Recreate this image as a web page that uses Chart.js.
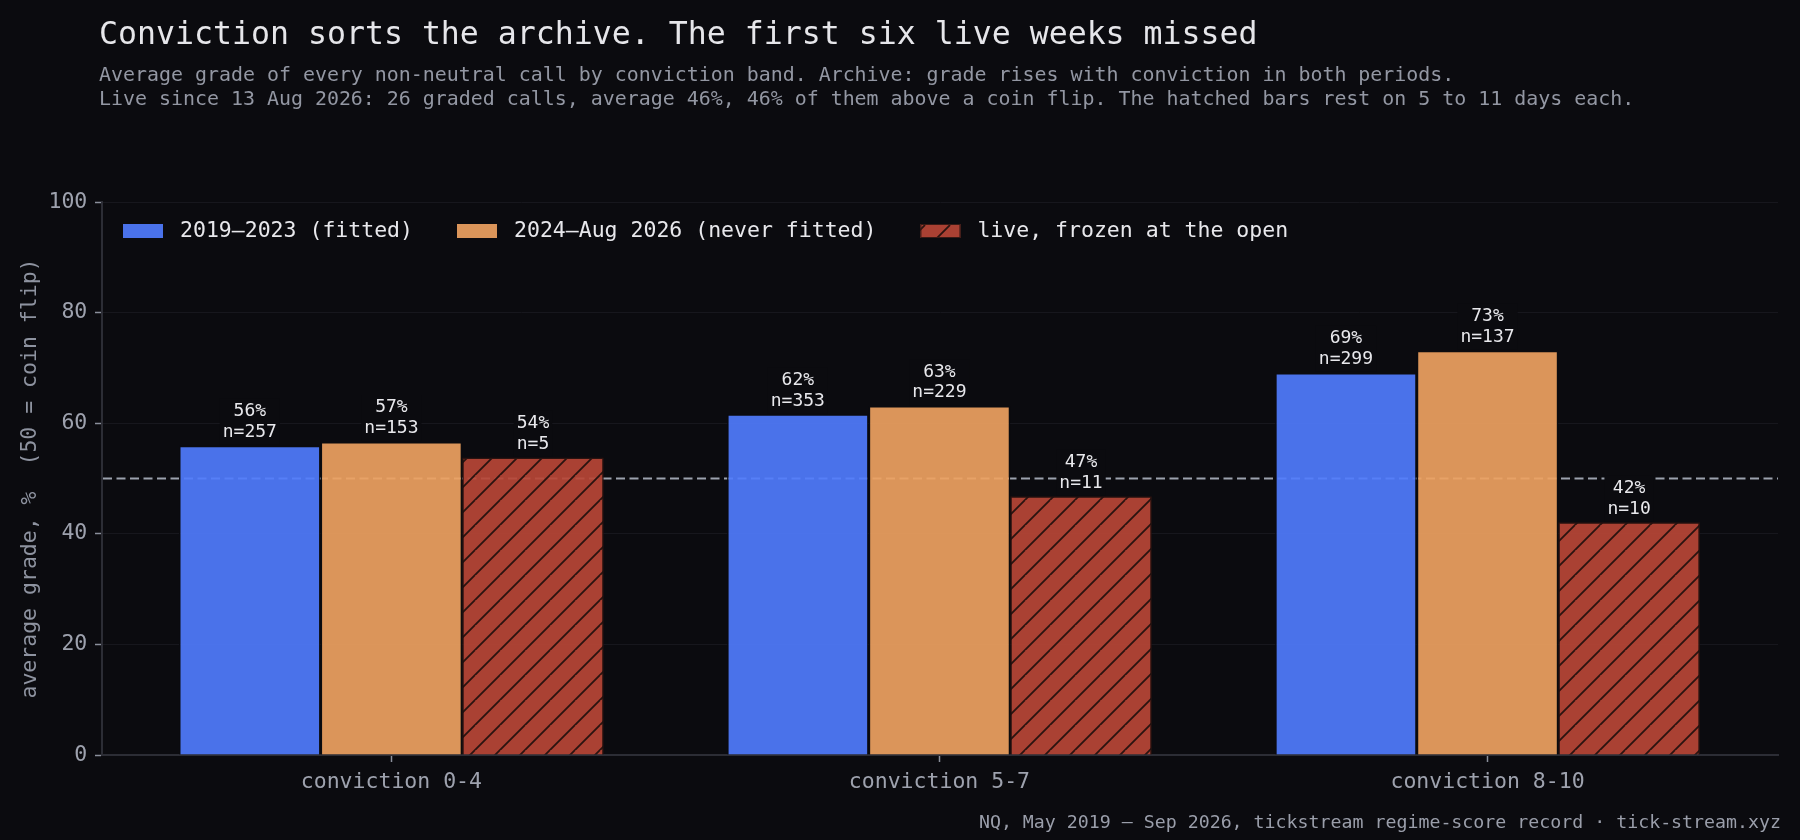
<!DOCTYPE html>
<html lang="en">
<head>
<meta charset="utf-8">
<title>Conviction sorts the archive</title>
<script src="https://cdn.jsdelivr.net/npm/chart.js@4.4.1/dist/chart.umd.min.js"></script>
<style>
  html, body { margin: 0; padding: 0; background: #0b0b0f; }
  #quadro { position: relative; width: 1800px; height: 840px; overflow: hidden; background: #0b0b0f; }
  #grafico { position: absolute; left: 0; top: 0; }
  .texto { position: absolute; font-family: 'DejaVu Sans Mono', monospace; white-space: pre; }
  #titulo { left: 99px; top: 13px; font-size: 31.55px; line-height: 40px; color: #e6e6ea; }
  #subtitulo { left: 99px; top: 63px; font-size: 19.93px; line-height: 24px; color: #9397a3; }
  #rodape { right: 19px; top: 811px; font-size: 18.25px; line-height: 22px; color: #9a9eaa; }
</style>
</head>
<body>
<div id="quadro">
  <canvas id="grafico" width="1800" height="840"></canvas>
  <div class="texto" id="titulo">Conviction sorts the archive. The first six live weeks missed</div>
  <div class="texto" id="subtitulo">Average grade of every non-neutral call by conviction band. Archive: grade rises with conviction in both periods.
Live since 13 Aug 2026: 26 graded calls, average 46%, 46% of them above a coin flip. The hatched bars rest on 5 to 11 days each.</div>
  <div class="texto" id="rodape">NQ, May 2019 – Sep 2026, tickstream regime-score record · tick-stream.xyz</div>
</div>
<script>
// dados
const categorias = ['conviction 0-4', 'conviction 5-7', 'conviction 8-10'];
const nomesSeries = ['2019–2023 (fitted)', '2024–Aug 2026 (never fitted)', 'live, frozen at the open'];
const notaAjustado = [55.9, 61.6, 69.1];
const notaNaoAjustado = [56.6, 63.1, 73.1];
const notaAoVivo = [53.8, 46.8, 42.1];
const nAjustado = [257, 353, 299];
const nNaoAjustado = [153, 229, 137];
const nAoVivo = [5, 11, 10];
const ticksY = [0, 20, 40, 60, 80, 100];
const moeda = 50;

const FUNDO = '#0b0b0f';
const BORDA = '#0b0b0f';
const FONTE = "'DejaVu Sans Mono', monospace";
const COR_TICK = '#9ea2ae';

function criarHachura(base, linha, tam) {
    const c = document.createElement('canvas');
    c.width = tam;
    c.height = tam;
    const g = c.getContext('2d');
    g.fillStyle = base;
    g.fillRect(0, 0, tam, tam);
    g.strokeStyle = linha;
    g.lineWidth = 1.8;
    g.beginPath();
    g.moveTo(0, tam); g.lineTo(tam, 0);
    g.moveTo(-tam, tam); g.lineTo(0, 0);
    g.moveTo(tam, 2 * tam); g.lineTo(2 * tam, 0);
    g.moveTo(0, 2 * tam); g.lineTo(2 * tam, 0);
    g.stroke();
    return document.getElementById('grafico').getContext('2d').createPattern(c, 'repeat');
}

const hachura = criarHachura('rgba(184,71,54,0.92)', '#2a1310', 25);

function pontos(valores) {
    return valores.map((v, i) => ({ x: i, y: v }));
}

const linhaMoeda = {
    id: 'linhaMoeda',
    beforeDatasetsDraw(chart) {
        const { ctx, chartArea } = chart;
        const y = chart.scales.y.getPixelForValue(moeda);
        ctx.save();
        ctx.strokeStyle = '#9ca2ae';
        ctx.lineWidth = 2;
        ctx.setLineDash([9, 4.5]);
        ctx.beginPath();
        ctx.moveTo(chartArea.left + 1, y);
        ctx.lineTo(chartArea.right, y);
        ctx.stroke();
        ctx.restore();
    }
};

const rotulosBarras = {
    id: 'rotulosBarras',
    afterDatasetsDraw(chart) {
        const { ctx } = chart;
        ctx.save();
        ctx.font = '18px ' + FONTE;
        ctx.textAlign = 'center';
        ctx.textBaseline = 'middle';
        chart.data.datasets.forEach((ds, i) => {
            chart.getDatasetMeta(i).data.forEach((barra, j) => {
                const linhas = [Math.round(ds.data[j].y) + '%', 'n=' + ds.contagens[j]];
                const w = Math.max(...linhas.map(t => ctx.measureText(t).width));
                const topo = barra.y;
                ctx.fillStyle = FUNDO;
                ctx.fillRect(barra.x - w / 2 - 3, topo - 47, w + 6, 46);
                ctx.fillStyle = '#e8e8ec';
                ctx.fillText(linhas[0], barra.x, topo - 34.2);
                ctx.fillText(linhas[1], barra.x, topo - 13.3);
            });
        });
        ctx.restore();
    }
};

const legendaPropria = {
    id: 'legendaPropria',
    afterDraw(chart) {
        const { ctx } = chart;
        ctx.save();
        ctx.font = '21.5px ' + FONTE;
        ctx.textBaseline = 'middle';
        ctx.textAlign = 'left';
        let x = 123;
        const yc = 231;
        chart.data.datasets.forEach(ds => {
            ctx.fillStyle = ds.backgroundColor;
            ctx.fillRect(x, yc - 7, 40, 14);
            ctx.strokeStyle = ds.hachurado ? '#3a1a15' : 'rgba(0,0,0,0)';
            ctx.lineWidth = 1;
            ctx.strokeRect(x + 0.5, yc - 6.5, 39, 13);
            ctx.fillStyle = '#e8e8ec';
            ctx.fillText(ds.label, x + 57, yc);
            x += 57 + ctx.measureText(ds.label).width + 44;
        });
        ctx.restore();
    }
};

new Chart(document.getElementById('grafico'), {
    type: 'bar',
    data: {
        datasets: [
            { label: nomesSeries[0], data: pontos(notaAjustado), contagens: nAjustado,
              backgroundColor: 'rgba(80,124,253,0.92)', borderColor: BORDA, borderWidth: 1.5 },
            { label: nomesSeries[1], data: pontos(notaNaoAjustado), contagens: nNaoAjustado,
              backgroundColor: 'rgba(238,162,97,0.92)', borderColor: BORDA, borderWidth: 1.5 },
            { label: nomesSeries[2], data: pontos(notaAoVivo), contagens: nAoVivo, hachurado: true,
              backgroundColor: hachura, borderColor: '#2a1310', borderWidth: 1.5 }
        ]
    },
    options: {
        responsive: false,
        animation: false,
        devicePixelRatio: 1,
        layout: { padding: { top: 202, right: 22, bottom: 45, left: 0 } },
        datasets: { bar: { categoryPercentage: 0.775, barPercentage: 1, grouped: true } },
        plugins: { legend: { display: false }, tooltip: { enabled: false } },
        scales: {
            x: {
                type: 'linear',
                offset: false,
                min: -0.528,
                max: 2.53,
                afterBuildTicks: s => { s.ticks = categorias.map((c, i) => ({ value: i })); },
                afterFit: s => { s.height = 40; },
                ticks: {
                    callback: v => categorias[v],
                    color: COR_TICK,
                    padding: 7.5,
                    maxRotation: 0,
                    autoSkip: false,
                    font: { family: FONTE, size: 21.5 }
                },
                grid: { offset: false, drawOnChartArea: false, drawTicks: true, tickLength: 7, tickColor: '#8a8f9b', tickWidth: 1.5 },
                border: { color: '#2c2d35', width: 2 }
            },
            y: {
                min: 0,
                max: 100,
                afterBuildTicks: s => { s.ticks = ticksY.map(v => ({ value: v })); },
                afterFit: s => { s.width = 102; },
                ticks: { color: COR_TICK, padding: 7.7, font: { family: FONTE, size: 21.5 } },
                grid: { color: '#17171d', lineWidth: 1, tickLength: 7, tickColor: '#8a8f9b', tickWidth: 1.5 },
                border: { color: '#2c2d35', width: 2 },
                title: {
                    display: true,
                    text: 'average grade, %  (50 = coin flip)',
                    color: '#8e93a0',
                    padding: { top: 18, bottom: 0 },
                    font: { family: FONTE, size: 21.5 }
                }
            }
        }
    },
    plugins: [linhaMoeda, rotulosBarras, legendaPropria]
});
</script>
</body>
</html>
